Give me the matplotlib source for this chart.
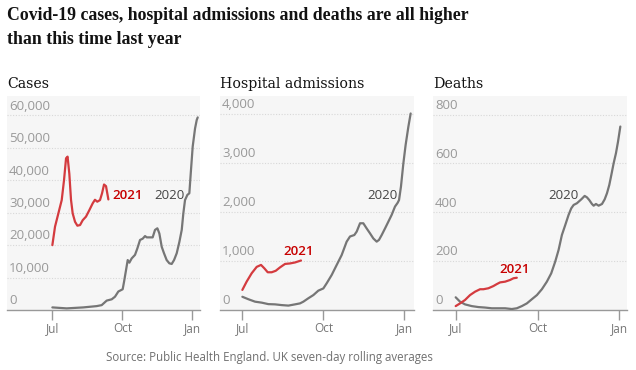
import matplotlib
matplotlib.use("Agg")
import matplotlib.pyplot as plt

# x values are days since 1 July
cases_2021_day = [0, 3.5, 7.9, 12.3, 15.3, 18, 20, 22.3, 24.5, 26.7, 29.8, 32.9, 36.4, 39.9,
                  44.2, 48.6, 53, 56, 59, 62.6, 65.3, 67.9, 70.5, 73.6]
cases_2021 = [20000, 25700, 29800, 33900, 40000, 46800, 47300, 42000, 34000, 29800, 27200,
              26000, 26200, 27700, 28800, 30800, 32900, 34000, 33400, 33900, 36000, 38700,
              38200, 34100]
cases_2020_day = [0, 18.8, 40.7, 58.3, 64.8, 71.4, 78, 82.3, 86.7, 92.4, 94.2, 96.8, 99, 101.2,
                  104.2, 108.6, 111.7, 115.2, 118.7, 121.8, 124, 127.5, 131.8, 134.9, 138,
                  140.6, 143.7, 146.7, 150.2, 153.7, 156.8, 159.9, 163.4, 166.9, 170, 172.1,
                  174.3, 177.4, 180, 181.8, 184.4, 187.5, 189.7, 191]
cases_2020 = [800, 500, 800, 1200, 1500, 2900, 3300, 4100, 5700, 6400, 8700, 12300, 15400,
              14600, 15900, 17000, 19000, 21600, 22000, 22800, 22400, 22400, 22400, 24700,
              25200, 23600, 19500, 17500, 15400, 14400, 14200, 15400, 17500, 21000, 24700,
              29800, 33900, 35500, 36000, 42000, 50400, 56000, 58600, 59400]

hosp_2021_day = [0, 4.9, 10.6, 16.3, 21.2, 25, 28.8, 33.3, 37.9, 42.8, 48.5, 54.1, 59.8, 66.6]
hosp_2021 = [410, 580, 750, 880, 920, 850, 770, 770, 800, 870, 940, 950, 970, 1010]
hosp_2020_day = [0, 6.8, 14.4, 22, 29.5, 37.1, 44.7, 52.3, 59.8, 65.5, 69.3, 75, 80.7, 86.3, 92,
                 95.8, 101.5, 107.2, 112.8, 118.5, 122.3, 127.2, 129.9, 133.7, 137.4, 141.2,
                 145, 148.8, 152.6, 155.2, 158.3, 162.1, 165.8, 169.6, 173.4, 176.5, 178,
                 180.2, 182.9, 185.5, 188.6, 191.2]
hosp_2020 = [270, 220, 170, 150, 120, 115, 100, 90, 115, 135, 170, 240, 305, 395, 440, 545, 715,
             920, 1120, 1395, 1500, 1530, 1600, 1770, 1770, 1665, 1565, 1460, 1395, 1430, 1530,
             1665, 1800, 1940, 2110, 2190, 2245, 2520, 2990, 3370, 3740, 4010]

deaths_2021_day = [0, 4.9, 10.5, 16.1, 21.8, 27.4, 31.2, 36.8, 42.4, 46.2, 49.9, 55.6, 61.2, 65, 68.7]
deaths_2021 = [16, 27, 41, 61, 75, 85, 85, 89, 98, 106, 113, 116, 123, 130, 132]
deaths_2020_day = [0, 4.9, 10.5, 18, 25.5, 33, 40.6, 48.1, 55.6, 63.1, 68.7, 74.4, 80, 85.6, 91.3,
                   96.9, 102.5, 107.4, 111.9, 115.7, 119.4, 123.2, 126.9, 129.9, 132.6, 136.3,
                   141.2, 145, 147.6, 150.2, 153.2, 155.1, 157.7, 160.7, 164.5, 167.5, 170.1,
                   172.7, 175, 177.6, 180.2, 182.5, 185.1]
deaths_2020 = [52, 34, 23, 16, 12, 10, 7, 7, 7, 4, 7, 16, 27, 44, 61, 85, 116, 150, 198, 246, 307,
               348, 389, 416, 430, 437, 453, 467, 461, 450, 434, 427, 434, 427, 434, 453, 478,
               512, 553, 601, 642, 689, 751]

month_ticks = [0, 92, 184]
month_labels = ["Jul", "Oct", "Jan"]

panel_titles = ["Cases", "Hospital admissions", "Deaths"]
yticks_all = [[0, 10000, 20000, 30000, 40000, 50000, 60000],
              [0, 1000, 2000, 3000, 4000],
              [0, 200, 400, 600, 800]]

RED_LINE = "#d43b3f"
RED_TEXT = "#c70000"
GREY_LINE = "#767676"
BG = "#f6f6f6"
W, H = 636, 370

fig = plt.figure(figsize=(W / 100, H / 100), dpi=100)
fig.patch.set_facecolor("white")

# (left px, right px, xlim, ylim)
boxes = [(7, 200, (-59.6, 194), (0, 66000)),
         (220, 414, (-25.4, 195), (0, 4367)),
         (433, 627, (-25.5, 192.6), (0, 876))]
top_px, bottom_px = 96, 310

series = [(cases_2020_day, cases_2020, cases_2021_day, cases_2021),
          (hosp_2020_day, hosp_2020, hosp_2021_day, hosp_2021),
          (deaths_2020_day, deaths_2020, deaths_2021_day, deaths_2021)]
labels_pos = [((79, 35460), (134, 35460)),
              ((46.6, 1190), (142.4, 2333)),
              ((48.8, 166), (103.6, 468))]

for i, (l, r, xl, yl) in enumerate(boxes):
    ax = fig.add_axes([l / W, (H - bottom_px) / H, (r - l) / W, (bottom_px - top_px) / H])
    ax.set_facecolor(BG)
    ax.set_xlim(*xl)
    ax.set_ylim(*yl)
    for s in ["top", "right", "left"]:
        ax.spines[s].set_visible(False)
    ax.spines["bottom"].set_color("#999999")
    ax.spines["bottom"].set_linewidth(1)
    ax.set_yticks([])
    ax.set_xticks(month_ticks)
    ax.set_xticklabels(month_labels, fontsize=8.5, color="#767676", family="Open Sans")
    ax.tick_params(axis="x", length=7, width=1, color="#999999", pad=2)

    for v in yticks_all[i]:
        if v > 0:
            ax.axhline(v, color="#d8d8d8", lw=0.8, ls=(0, (1, 1.5)), zorder=1)
        ax.annotate(f"{v:,}", xy=(0, v), xycoords=("axes fraction", "data"),
                    xytext=(1.5, 2), textcoords="offset points", ha="left", va="bottom",
                    fontsize=9.5, color="#999999", family="Open Sans")

    x20, y20, x21, y21 = series[i]
    ax.plot(x20, y20, color=GREY_LINE, lw=1.6, zorder=3, solid_capstyle="round")
    ax.plot(x21, y21, color=RED_LINE, lw=1.6, zorder=4, solid_capstyle="round")

    (rx, ry), (gx, gy) = labels_pos[i]
    ax.text(rx, ry, "2021", color=RED_TEXT, fontsize=9.5, fontweight="semibold",
            ha="left", va="center", family="Open Sans", zorder=5)
    ax.text(gx, gy, "2020", color="#444444", fontsize=9.5,
            ha="left", va="center", family="Open Sans", zorder=5)

    fig.text((l + 0.5) / W, 1 - 84 / H, panel_titles[i], fontsize=10.2, color="#121212",
             family="DejaVu Serif", ha="left", va="center")

title_lines = ["Covid-19 cases, hospital admissions and deaths are all higher",
               "than this time last year"]
for k, line in enumerate(title_lines):
    fig.text(7 / W, 1 - (16 + 23 * k) / H, line, fontsize=12.8, fontweight="bold",
             color="#121212", family="Liberation Serif", ha="left", va="center")

fig.text(269 / W, 1 - 357 / H, "Source: Public Health England. UK seven-day rolling averages",
         fontsize=8.3, color="#707070", family="Open Sans", ha="center", va="center")

fig.savefig("out.png", dpi=100)
